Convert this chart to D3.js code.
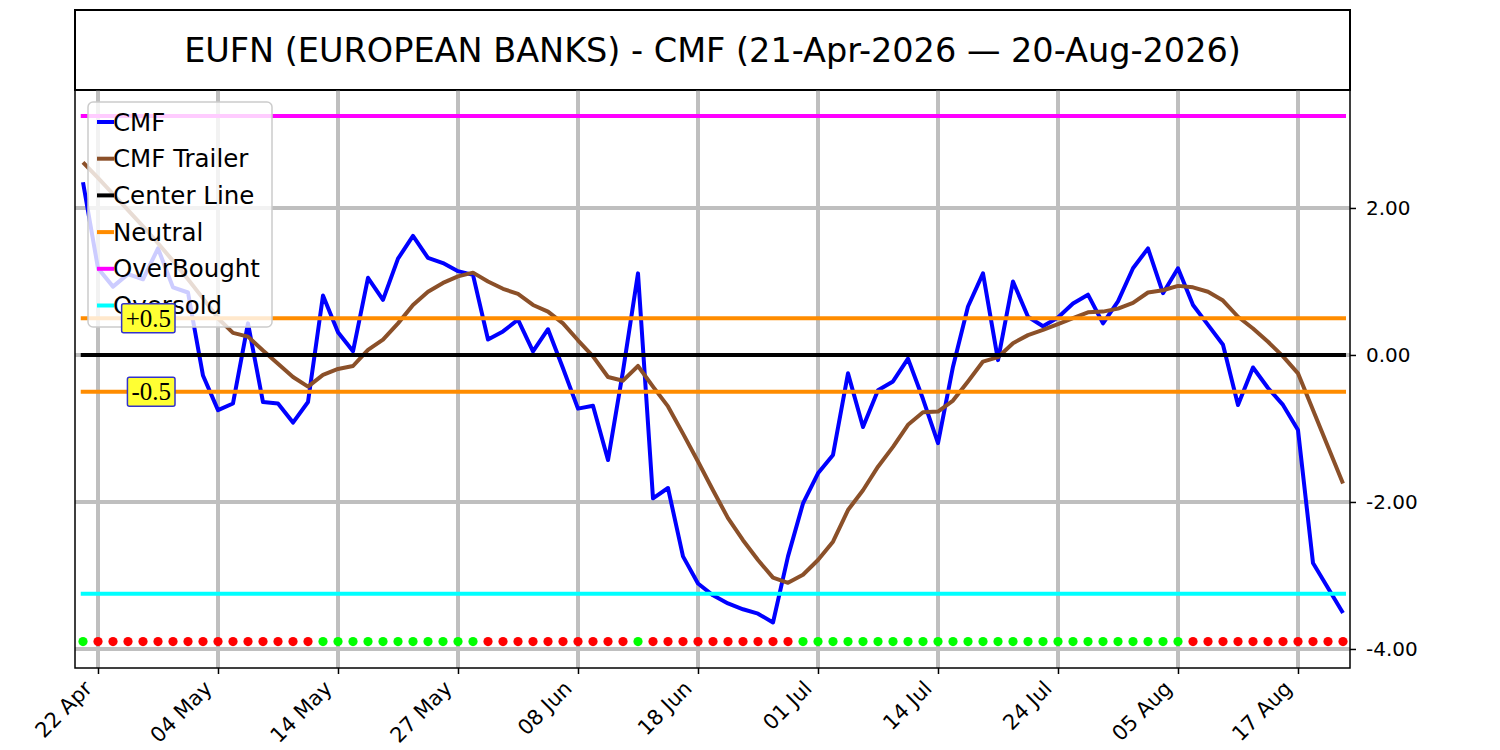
<!DOCTYPE html>
<html>
<head>
<meta charset="utf-8">
<script src="https://cdn.jsdelivr.net/npm/d3@7"></script>
<style>
  body { margin: 0; background: #fff; }
  svg { font-family: "DejaVu Sans", sans-serif; }
</style>
</head>
<body>
<svg id="chart" width="1500" height="750"></svg>
<script>
// trading-day index -> label, one tick every 8 sessions
let tickIndex = [1, 9, 17, 25, 33, 41, 49, 57, 65, 73, 81];
let tickLabels = ["22 Apr", "04 May", "14 May", "27 May", "08 Jun", "18 Jun",
    "01 Jul", "14 Jul", "24 Jul", "05 Aug", "17 Aug"];

let cmf = [2.35, 1.18, 0.93, 1.10, 1.03, 1.45, 0.92, 0.85, -0.28, -0.75,
    -0.66, 0.43, -0.64, -0.66, -0.92, -0.64, 0.81, 0.31, 0.05, 1.05,
    0.75, 1.31, 1.62, 1.32, 1.25, 1.14, 1.09, 0.21, 0.32, 0.48,
    0.05, 0.35, -0.18, -0.73, -0.69, -1.43, -0.22, 1.11, -1.95, -1.81,
    -2.74, -3.11, -3.27, -3.38, -3.46, -3.52, -3.64, -2.74, -2.02, -1.61,
    -1.36, -0.25, -0.98, -0.48, -0.36, -0.05, -0.60, -1.20, -0.16, 0.66,
    1.11, -0.07, 1.00, 0.52, 0.39, 0.51, 0.70, 0.82, 0.43, 0.73,
    1.18, 1.45, 0.84, 1.18, 0.68, 0.41, 0.14, -0.68, -0.17, -0.45,
    -0.68, -1.02, -2.83, -3.17, -3.51];

let trailer = [2.62, 2.41, 2.19, 1.97, 1.75, 1.52, 1.28, 1.03, 0.77, 0.50,
    0.30, 0.25, 0.06, -0.12, -0.30, -0.43, -0.27, -0.19, -0.15, 0.07,
    0.21, 0.43, 0.68, 0.86, 0.98, 1.07, 1.12, 1.00, 0.90, 0.83,
    0.68, 0.59, 0.43, 0.20, -0.02, -0.30, -0.35, -0.15, -0.43, -0.70,
    -1.07, -1.45, -1.84, -2.22, -2.52, -2.79, -3.03, -3.10, -2.99, -2.79,
    -2.54, -2.11, -1.84, -1.52, -1.25, -0.95, -0.78, -0.77, -0.62, -0.36,
    -0.09, -0.03, 0.16, 0.27, 0.34, 0.42, 0.50, 0.58, 0.59, 0.63,
    0.71, 0.85, 0.88, 0.94, 0.92, 0.86, 0.74, 0.52, 0.36, 0.18,
    -0.02, -0.25, -0.75, -1.25, -1.75];

// G = green dot, R = red dot
let signal = ("G" + "RRRRRRRRRRRRRRR" + "GGGGGGGGGGG" + "RRRRRRRRRR" + "G" +
    "RRRRRRRRRR" + "GGGGGGGGGGGGGGGGGGGGGGGGGG" + "RRRRRRRRRRR").split("");

let centerLevel = 0;
let neutralLevels = [0.5, -0.5];
let overBought = 3.25;
let overSold = -3.25;
let dotLevel = -3.9;
let yTicks = [2, 0, -2, -4];

let svg = d3.select("#chart");
let pLeft = 75, pRight = 1350, pTop = 90, pBottom = 668;

let x = d3.scaleLinear().domain([-0.533, 84.467]).range([pLeft, pRight]);
let y = d3.scaleLinear().domain([-4.259, 3.605]).range([pBottom, pTop]);

// title box
svg.append("rect")
    .attr("x", pLeft).attr("y", 10)
    .attr("width", pRight - pLeft).attr("height", pTop - 10)
    .attr("fill", "none").attr("stroke", "#000").attr("stroke-width", 2);
svg.append("text")
    .attr("x", (pLeft + pRight) / 2).attr("y", 50)
    .attr("text-anchor", "middle").attr("dominant-baseline", "central")
    .style("font-size", "33.5px")
    .text("EUFN (EUROPEAN BANKS) - CMF (21-Apr-2026 \u2014 20-Aug-2026)");

// grid
let grid = svg.append("g").attr("stroke", "#bfbfbf").attr("stroke-width", 4);
grid.selectAll("line.v").data(tickIndex).enter().append("line")
    .attr("class", "v")
    .attr("x1", d => x(d)).attr("x2", d => x(d))
    .attr("y1", pTop).attr("y2", pBottom);
grid.selectAll("line.h").data(yTicks).enter().append("line")
    .attr("class", "h")
    .attr("x1", pLeft).attr("x2", pRight)
    .attr("y1", d => y(d)).attr("y2", d => y(d));

let line = d3.line().x((d, i) => x(i)).y(d => y(d));

svg.append("path").datum(cmf)
    .attr("d", line)
    .attr("fill", "none").attr("stroke", "#0000ff")
    .attr("stroke-width", 4).attr("stroke-linejoin", "round");

svg.append("path").datum(trailer)
    .attr("d", line)
    .attr("fill", "none").attr("stroke", "#8b5029")
    .attr("stroke-width", 4).attr("stroke-linejoin", "round");

function hline(level, color) {
    svg.append("line")
        .attr("x1", x(-0.15)).attr("x2", x(84.2))
        .attr("y1", y(level)).attr("y2", y(level))
        .attr("stroke", color).attr("stroke-width", 4);
}
hline(centerLevel, "#000");
neutralLevels.forEach(v => hline(v, "#ff8c00"));
hline(overBought, "#ff00ff");
hline(overSold, "#00ffff");

// signal dots
svg.append("g").selectAll("circle")
    .data(signal).enter().append("circle")
    .attr("cx", (d, i) => x(i))
    .attr("cy", y(dotLevel))
    .attr("r", 4.6)
    .attr("fill", d => d === "G" ? "#00ff00" : "#ff0000");

// frame
svg.append("rect")
    .attr("x", pLeft).attr("y", pTop)
    .attr("width", pRight - pLeft).attr("height", pBottom - pTop)
    .attr("fill", "none").attr("stroke", "#000").attr("stroke-width", 1.5);

// axes
let xAxis = svg.append("g")
    .attr("transform", "translate(0," + pBottom + ")")
    .call(d3.axisBottom(x).tickValues(tickIndex)
        .tickFormat((d, i) => tickLabels[i]).tickSize(6).tickSizeOuter(0));
xAxis.select(".domain").remove();
xAxis.selectAll(".tick line").attr("stroke", "#000").attr("stroke-width", 1.5);
xAxis.selectAll(".tick text")
    .style("font-size", "21px").style("font-family", "DejaVu Sans")
    .attr("text-anchor", "end")
    .attr("dy", null)
    .attr("y", 0).attr("x", 0)
    .attr("dominant-baseline", "hanging")
    .attr("transform", "translate(-16,11) rotate(-45)");

let fmt = d3.format(".2f");
let yAxis = svg.append("g")
    .attr("transform", "translate(" + pRight + ",0)")
    .call(d3.axisRight(y).tickValues(yTicks)
        .tickFormat(d => fmt(d).replace("\u2212", "-"))
        .tickSize(6).tickSizeOuter(0));
yAxis.select(".domain").remove();
yAxis.selectAll(".tick line").attr("stroke", "#000").attr("stroke-width", 1.5);
yAxis.selectAll(".tick text")
    .style("font-size", "20px").style("font-family", "DejaVu Sans")
    .attr("x", 16);

// legend
let legendItems = [
    {name: "CMF", color: "#0000ff"},
    {name: "CMF Trailer", color: "#8b5029"},
    {name: "Center Line", color: "#000"},
    {name: "Neutral", color: "#ff8c00"},
    {name: "OverBought", color: "#ff00ff"},
    {name: "Oversold", color: "#00ffff"}
];
let legend = svg.append("g");
legend.append("rect")
    .attr("x", 88).attr("y", 102).attr("width", 184).attr("height", 225)
    .attr("rx", 5)
    .attr("fill", "#fff").attr("fill-opacity", 0.8)
    .attr("stroke", "#cccccc").attr("stroke-width", 1.5);
let rows = legend.selectAll("g.item").data(legendItems).enter().append("g")
    .attr("class", "item")
    .attr("transform", (d, i) => "translate(97," + (122 + i * 36.7) + ")");
rows.append("line")
    .attr("x1", 0).attr("x2", 17)
    .attr("stroke", d => d.color).attr("stroke-width", 4);
rows.append("text")
    .attr("x", 16).attr("dominant-baseline", "central")
    .style("font-size", "24.5px")
    .text(d => d.name);

// level tags
let tags = [{v: 0.5, t: "+0.5"}, {v: -0.5, t: "-0.5"}];
tags.forEach(tag => {
    let g = svg.append("g");
    let txt = g.append("text")
        .attr("x", 171).attr("y", y(tag.v))
        .attr("text-anchor", "end").attr("dominant-baseline", "central")
        .style("font-family", "'Liberation Serif', 'Times New Roman', serif")
        .style("font-size", "25px")
        .text(tag.t);
    let b = txt.node().getBBox();
    g.insert("rect", "text")
        .attr("x", b.x - 4).attr("y", y(tag.v) - 14.5)
        .attr("width", b.width + 8).attr("height", 29)
        .attr("rx", 2)
        .attr("fill", "#ffff33").attr("stroke", "#3333cc").attr("stroke-width", 1.5);
});
</script>
</body>
</html>
